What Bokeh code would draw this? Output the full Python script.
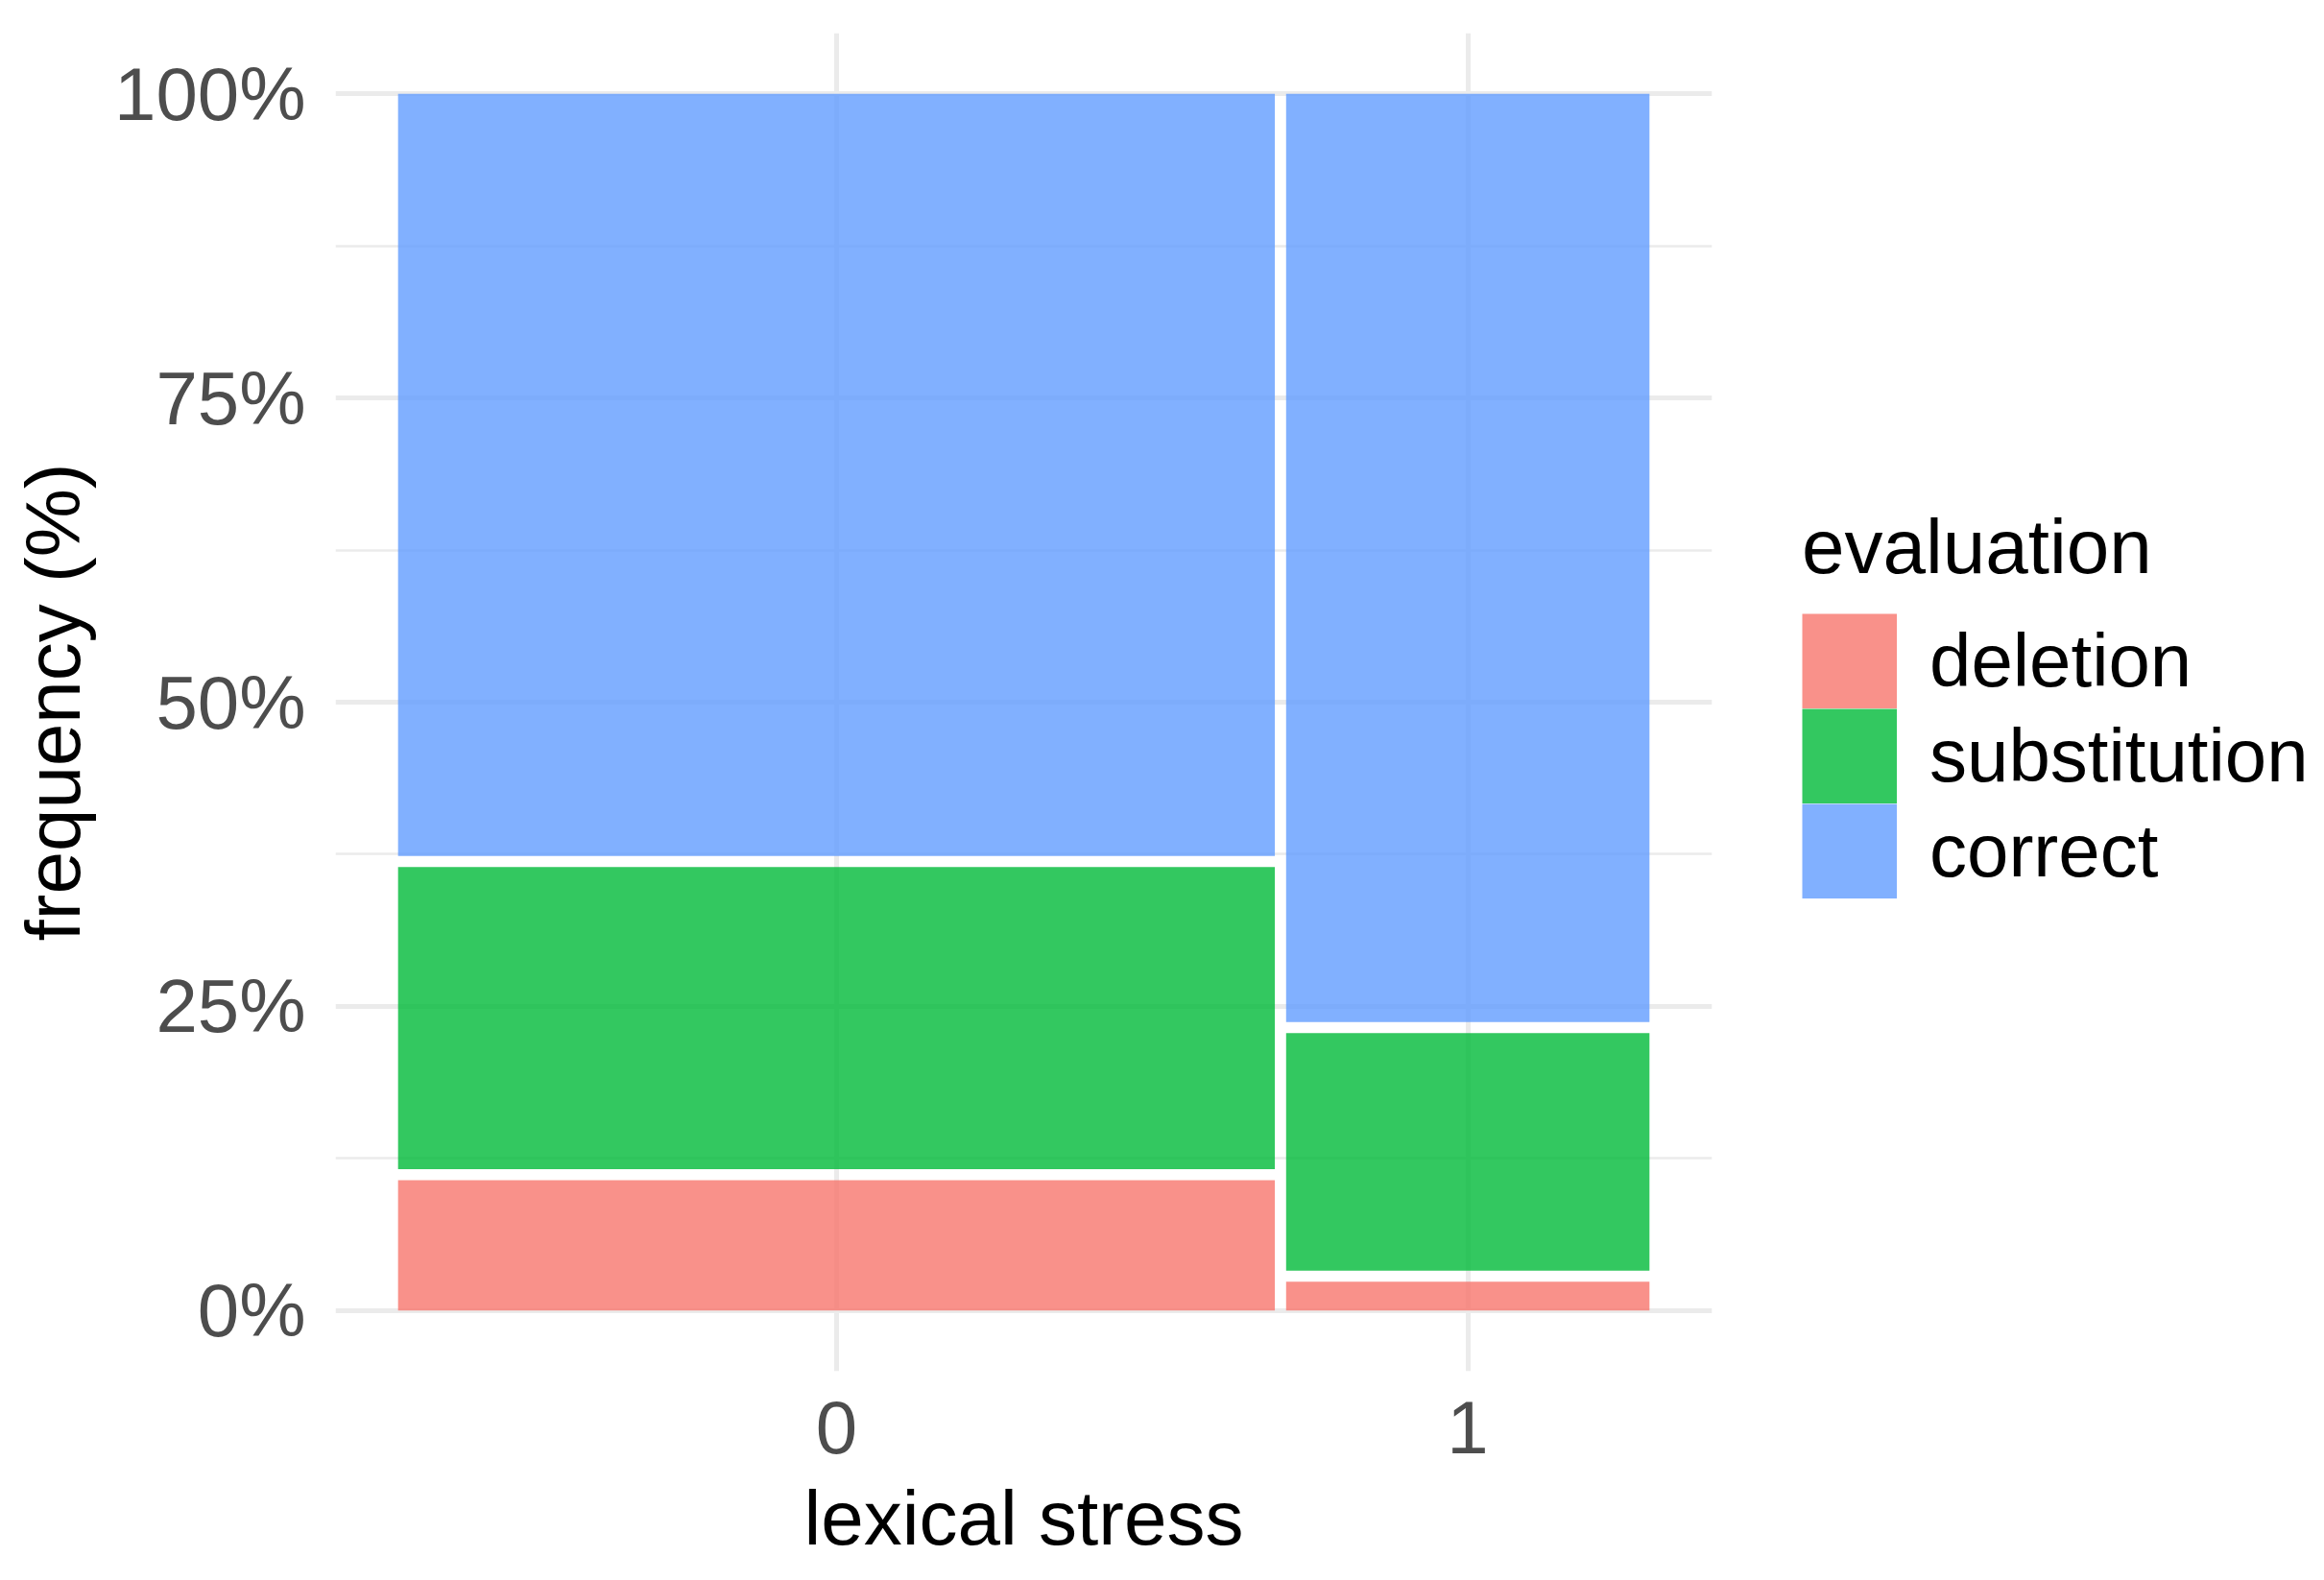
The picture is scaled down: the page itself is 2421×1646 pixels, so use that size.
from bokeh.plotting import figure
from bokeh.models import (Range1d, FixedTicker, NumeralTickFormatter, Legend,
                          LegendItem, ColumnDataSource)
from bokeh.embed import file_html
from bokeh.resources import INLINE

stress_levels = ["0", "1"]
stress_share = [0.707, 0.293]            # marginal share of each stress level
evaluations = ["deletion", "substitution", "correct"]
deletion = [0.109, 0.024]                # conditional share within stress level
substitution = [0.253, 0.199]
correct = [0.638, 0.777]
y_ticks = [0.0, 0.25, 0.5, 0.75, 1.0]
y_minor = [0.125, 0.375, 0.625, 0.875]

colors = ["#F8766D", "#00BA38", "#619CFF"]
GAP = 0.009

# ---- mosaic geometry ----
n = len(stress_levels)
avail_x = 1 - GAP * (n - 1)
lefts, rights, centers = [], [], []
x = 0.0
for s in stress_share:
    w = s * avail_x
    lefts.append(x)
    rights.append(x + w)
    centers.append(x + w / 2)
    x += w + GAP

series = [deletion, substitution, correct]
avail_y = 1 - GAP * (len(series) - 1)
bottoms = [[0.0] * n for _ in series]
tops = [[0.0] * n for _ in series]
for j in range(n):
    y = 0.0
    for i, ser in enumerate(series):
        h = ser[j] * avail_y
        bottoms[i][j] = y
        tops[i][j] = y + h
        y += h + GAP

p = figure(width=2400, height=1640, frame_width=1434, frame_height=1394,
           x_range=Range1d(-0.05, 1.05), y_range=Range1d(-0.05, 1.05),
           output_backend="svg", toolbar_location=None,
           min_border_left=349, min_border_top=34, min_border_right=617,
           min_border_bottom=212)
p.outline_line_color = None
p.background_fill_color = "white"

renderers = []
key_renderers = []
nan = float("nan")
for i, ev in enumerate(evaluations):
    src = ColumnDataSource(dict(left=lefts, right=rights,
                                bottom=bottoms[i], top=tops[i]))
    r = p.quad(left="left", right="right", bottom="bottom", top="top",
               source=src, fill_color=colors[i], fill_alpha=0.8,
               line_color=None)
    renderers.append(r)
    # legend key: a thick butt-capped line (not drawn in the plot, NaN y)
    k = p.line(x=centers, y=[nan] * n, line_color=colors[i], line_alpha=0.8,
               line_width=99, line_cap="butt")
    key_renderers.append(k)

# axes
xt = FixedTicker(ticks=centers)
p.xaxis.ticker = xt
p.xaxis.major_label_overrides = {c: lab for c, lab in zip(centers, stress_levels)}
yt = FixedTicker(ticks=y_ticks, minor_ticks=y_minor)
p.yaxis.ticker = yt
p.yaxis.formatter = NumeralTickFormatter(format="0%")

for ax in (p.xaxis[0], p.yaxis[0]):
    ax.axis_line_color = None
    ax.major_tick_line_color = None
    ax.minor_tick_line_color = None
    ax.major_tick_out = 0
    ax.major_tick_in = 0
    ax.minor_tick_out = 0
    ax.minor_tick_in = 0
    ax.major_label_text_font = "Liberation Sans"
    ax.major_label_text_font_size = "78px"
    ax.major_label_text_color = "#4D4D4D"
    ax.axis_label_text_font = "Liberation Sans"
    ax.axis_label_text_font_size = "80px"
    ax.axis_label_text_font_style = "normal"
    ax.axis_label_text_color = "black"

p.xaxis.axis_label = "lexical stress"
p.yaxis.axis_label = "frequency (%)"
p.xaxis.major_label_standoff = 31
p.xaxis.axis_label_standoff = 20
p.yaxis.major_label_standoff = 31
p.yaxis.axis_label_standoff = 16

p.xgrid.ticker = xt
p.ygrid.ticker = yt
p.xgrid.grid_line_color = "#EBEBEB"
p.xgrid.grid_line_width = 5
p.ygrid.grid_line_color = "#EBEBEB"
p.ygrid.grid_line_width = 5
p.ygrid.minor_grid_line_color = "#EBEBEB"
p.ygrid.minor_grid_line_width = 2.5

legend = Legend(items=[LegendItem(label=ev, renderers=[k])
                       for ev, k in zip(evaluations, key_renderers)],
                title="evaluation", location=(94, 492),
                glyph_width=99, glyph_height=99, spacing=0,
                label_standoff=34, padding=0, margin=0,
                border_line_color=None, background_fill_alpha=0,
                title_text_font="Liberation Sans", title_text_font_size="80px",
                title_text_font_style="normal", title_text_color="black",
                title_standoff=23,
                label_text_font="Liberation Sans", label_text_font_size="78px",
                label_text_color="black")
p.add_layout(legend, "right")

open("out.html", "w").write(file_html(p, INLINE))
